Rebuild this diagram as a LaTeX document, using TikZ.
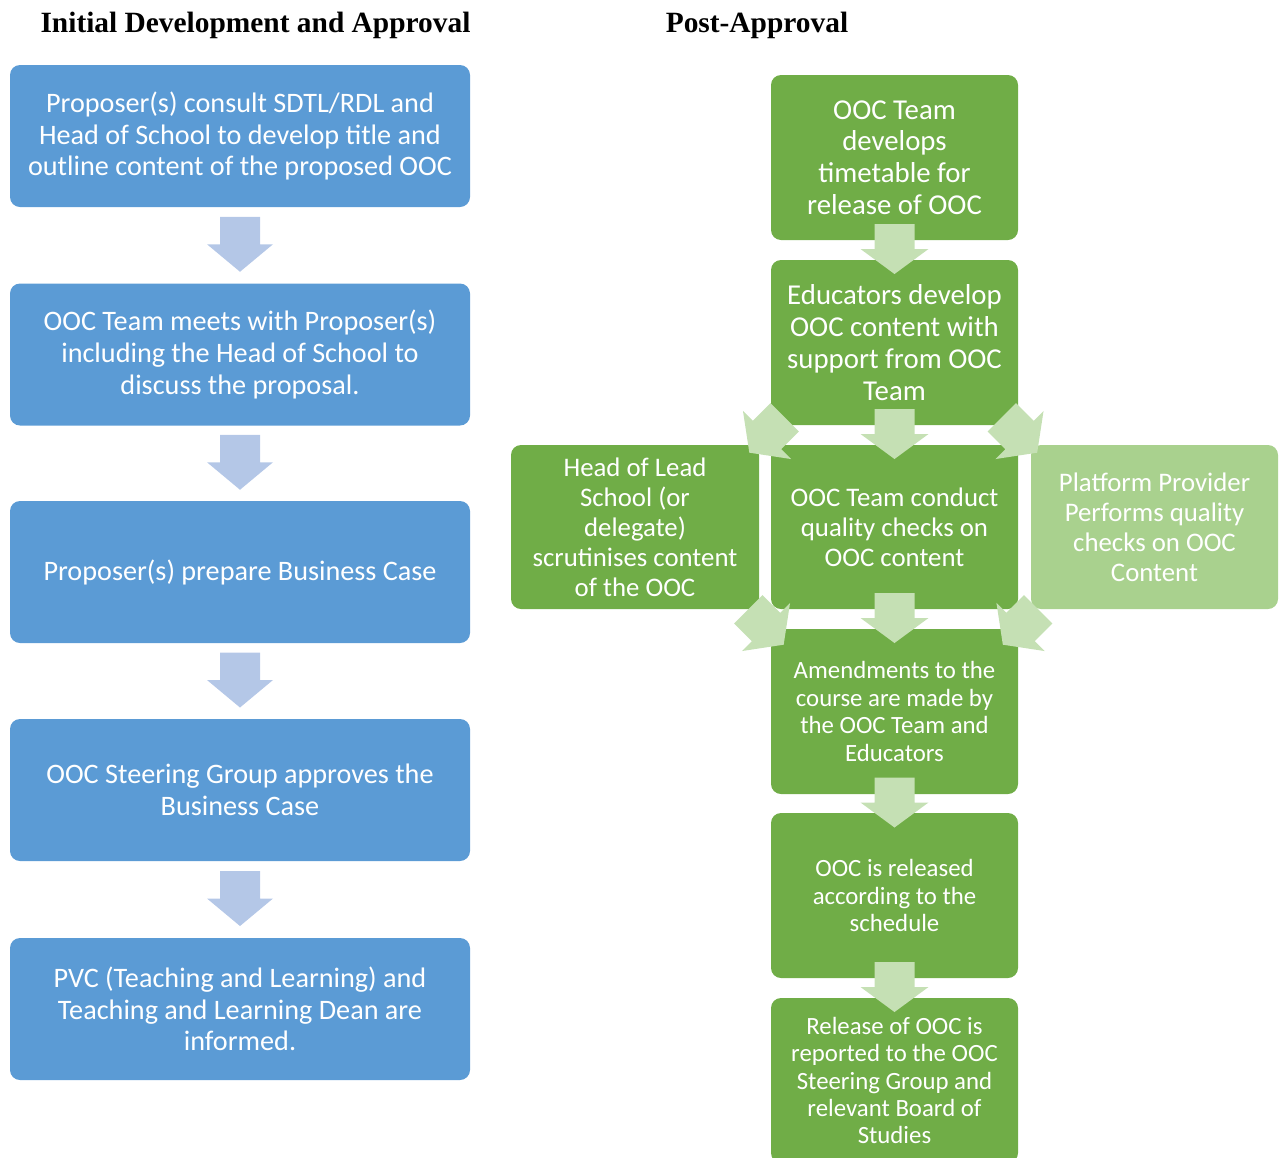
\documentclass[tikz,border=0pt]{standalone}
\usepackage{fontspec}
\setmainfont{Carlito}
\newfontfamily\headfont{Liberation Serif}
\usetikzlibrary{calc}
\definecolor{boxblue}{HTML}{5B9BD5}
\definecolor{arrblue}{HTML}{B4C7E7}
\definecolor{boxgreen}{HTML}{70AD47}
\definecolor{boxlight}{HTML}{A9D18E}
\definecolor{arrgreen}{HTML}{C5E0B4}
\tikzset{
  card/.style={rounded corners=10pt, inner sep=0pt, text=white, align=center},
  bluecard/.style={card, fill=boxblue, minimum width=460pt, minimum height=142pt,
    font=\fontsize{28.2}{31.6}\selectfont},
  greencard/.style={card, fill=boxgreen, minimum width=247pt, minimum height=165pt},
  bigtxt/.style={font=\fontsize{28.8}{31.8}\selectfont},
  midtxt/.style={font=\fontsize{26.8}{30}\selectfont},
  smalltxt/.style={font=\fontsize{24.8}{27.4}\selectfont},
  heading/.style={font=\headfont\bfseries\fontsize{29.4}{32}\selectfont, inner sep=0pt},
}
% block arrow pointing down in local coordinates, centred on the origin
\newcommand{\downblock}[3]{% position, rotation, colour
  \begin{scope}[shift={#1}, rotate=#2]
    \fill[#3] (-20,-25) -- (20,-25) -- (20,0) -- (34,0) -- (0,25) -- (-34,0) -- (-20,0) -- cycle;
  \end{scope}}
\newcommand{\blueblock}[1]{%
  \begin{scope}[shift={#1}]
    \fill[arrblue] (-20,-27.5) -- (20,-27.5) -- (20,0) -- (33,0) -- (0,27.5) -- (-33,0) -- (-20,0) -- cycle;
  \end{scope}}
\begin{document}
\begin{tikzpicture}[x=1pt, y=-1pt]
  \useasboundingbox (0,0) rectangle (1285,1157);
  \clip (0,0) rectangle (1285,1157);

  % headings
  \node[heading] (h1) at (255.5,25) {Initial Development and Approval};
  \node[heading] (h2) at (757,25) {Post-Approval};

  % initial development and approval
  \node[bluecard] (L1) at (240,136) {Proposer(s) consult SDTL/RDL and\\Head of School to develop title and\\outline content of the proposed OOC};
  \node[bluecard] (L2) at (240,354.5) {OOC Team meets with Proposer(s)\\including the Head of School to\\discuss the proposal.};
  \node[bluecard] (L3) at (240,572) {Proposer(s) prepare Business Case};
  \node[bluecard] (L4) at (240,790) {OOC Steering Group approves the\\Business Case};
  \node[bluecard] (L5) at (240,1009) {PVC (Teaching and Learning) and\\Teaching and Learning Dean are\\informed.};

  % post-approval
  \node[greencard, bigtxt] (R1) at (894.5,157.5) {OOC Team\\develops\\timetable for\\release of OOC};
  \node[greencard, bigtxt] (R2) at (894.5,342.5) {Educators develop\\OOC content with\\support from OOC\\Team};
  \node[greencard, midtxt, minimum height=164pt] (R3) at (894.5,527) {OOC Team conduct\\quality checks on\\OOC content};
  \node[greencard, midtxt, minimum height=164pt, minimum width=248pt] (RL) at (635,527) {Head of Lead\\School (or\\delegate)\\scrutinises content\\of the OOC};
  \node[greencard, midtxt, minimum height=164pt, fill=boxlight] (RR) at (1154.5,527) {Platform Provider\\Performs quality\\checks on OOC\\Content};
  \node[greencard, smalltxt] (R4) at (894.5,711.5) {Amendments to the\\course are made by\\the OOC Team and\\Educators};
  \node[greencard, smalltxt] (R5) at (894.5,895.5) {OOC is released\\according to the\\schedule};
  \node[greencard, smalltxt] (R6) at (894.5,1080.5) {Release of OOC is\\reported to the OOC\\Steering Group and\\relevant Board of\\Studies};

  % flow arrows, left column
  \blueblock{($(L1.south)!0.5!(L2.north)+(0,-1)$)}
  \blueblock{($(L2.south)!0.5!(L3.north)+(0,-1)$)}
  \blueblock{($(L3.south)!0.5!(L4.north)+(0,-1)$)}
  \blueblock{($(L4.south)!0.5!(L5.north)+(0,-1)$)}

  % flow arrows, right column
  \downblock{($(R1.south)!0.5!(R2.north)+(0,-1)$)}{0}{arrgreen}
  \downblock{($(R2.south)!0.5!(R3.north)+(0,-1)$)}{0}{arrgreen}
  \downblock{($(R3.south)!0.5!(R4.north)+(0,-1)$)}{0}{arrgreen}
  \downblock{($(R4.south)!0.5!(R5.north)+(0,-1)$)}{0}{arrgreen}
  \downblock{($(R5.south)!0.5!(R6.north)+(0,-1)$)}{0}{arrgreen}

  % branching arrows around the quality checks
  \downblock{($(R2.south west)!0.5!(RL.north east)+(2,0)$)}{-45}{arrgreen}
  \downblock{($(R2.south east)!0.5!(RR.north west)+(-5,0)$)}{45}{arrgreen}
  \downblock{($(RL.south east)!0.5!(R4.north west)+(1,8)$)}{45}{arrgreen}
  \downblock{($(RR.south west)!0.5!(R4.north east)+(-4,8)$)}{-45}{arrgreen}
\end{tikzpicture}
\end{document}
